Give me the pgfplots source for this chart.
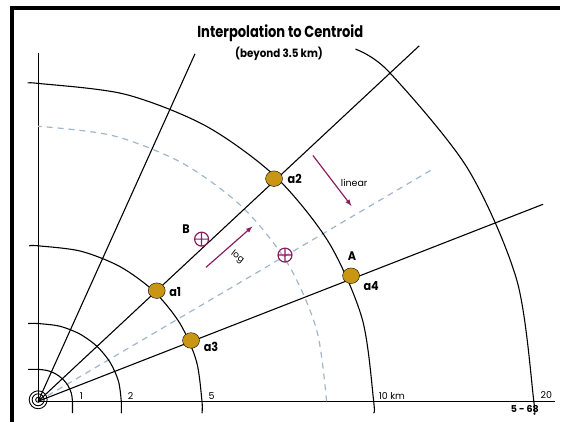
\documentclass[border=0pt]{standalone}
\usepackage{pgfplots}
\pgfplotsset{compat=1.18}
\usepackage{fontspec}
\setmainfont{Poppins}
\newfontfamily\titlefont{Poppins}[FakeStretch=0.82]
\newfontfamily\subfont{Poppins}[FakeStretch=0.9]
\newfontfamily\lblfont{Poppins}
\definecolor{gold}{RGB}{200,150,18}
\definecolor{mag}{RGB}{140,30,95}
\definecolor{dashc}{RGB}{160,182,202}
\begin{document}
\begin{tikzpicture}
\begin{axis}[scale only axis, width=562bp, height=424bp,
  xmin=-38.3, xmax=523.7, ymin=-21.3, ymax=402.7,
  hide axis, clip=false]
% bounding corners
\addplot[draw=none, mark=none] coordinates {(-38.3,-21.3) (523.7,402.7)};
% frame
\addplot[black, line width=4bp, mark=none] coordinates {(-26.3,-21.3) (-26.3,394.7) (523.7,394.7)};
% gold stations (under the lines)
\addplot[only marks, mark=*, mark size=8.5bp, mark options={draw=none, fill=gold, yscale=0.92}] coordinates {
(119,111) (236.7,223.4) (153.4,61) (314,126)};
% axes
\addplot[black, line width=1.1bp, mark=none] coordinates {(0,350) (0,0) (518.4,0)};
% dashed arc
\addplot[dashc, line width=1.2bp, dash pattern=on 6bp off 5bp, smooth, mark=none] coordinates {
(289.4,0) (279.53,71.43) (250.62,138) (204.63,195.16) (144.7,239.02) (74.9,266.59) (0,276)};
% dashed ray
\addplot[dashc, line width=1.2bp, dash pattern=on 6bp off 5bp, mark=none] coordinates {(0,0) (396.7,233.4)};
% arcs
\addplot[black, line width=1.1bp, smooth, mark=none] coordinates {
(34.4,-12) (34.4,0) (33.23,8.28) (29.79,16) (24.32,22.63) (17.2,27.71) (8.90,30.91) (0,32) (-10,32)};
\addplot[black, line width=1.1bp, smooth, mark=none] coordinates {
(83.4,-12) (83.4,0) (80.56,20.19) (72.23,39) (58.97,55.15) (41.7,67.55) (21.58,75.34) (0,78) (-10,78)};
\addplot[black, line width=1.1bp, smooth, mark=none] coordinates {
(164.4,-12) (164.4,0) (158.80,40.37) (142.37,78) (116.25,110.31) (82.2,135.1) (42.55,150.68) (0,156) (-9,156)};
\addplot[black, line width=1.1bp, smooth, mark=none] coordinates {
(336.7,-12) (336.7,0) (325.22,82.56) (291.58,159.5) (238.08,225.56) (168.35,276.25) (87.14,308.12) (0,319) (-10,319)};
\addplot[black, line width=1.1bp, smooth, mark=none] coordinates {
(497.4,-12) (497.4,0) (480.45,121.12) (430.76,234) (351.72,330.92) (318.4,353.4)};
% rays
\addplot[black, line width=1.1bp, mark=none] coordinates {(0,0) (157.4,348.7)};
\addplot[black, line width=1.1bp, mark=none] coordinates {(0,0) (382.4,356.7)};
\addplot[black, line width=1.1bp, mark=none] coordinates {(0,0) (506.7,197.7)};
% origin rings
\addplot[black, line width=0.9bp, mark=o, mark size=9bp, only marks] coordinates {(0,1.5)};
\addplot[black, line width=0.9bp, mark=o, mark size=6bp, only marks] coordinates {(0,1.5)};
\addplot[black, line width=0.9bp, mark=o, mark size=2.5bp, only marks] coordinates {(0,1.5)};
% centroid markers
\addplot[only marks, mag, mark=oplus, mark size=7bp, line width=1.2bp] coordinates {(164,162.7) (247.7,146.7)};
% arrows
\addplot[mag, line width=1.2bp, -{latex}, mark=none] coordinates {(168.4,134.4) (215,175.4)};
\addplot[mag, line width=1.2bp, -{latex}, mark=none] coordinates {(275.7,246.7) (314.4,196)};
% texts
\node[font=\titlefont\bfseries\fontsize{16bp}{17bp}\selectfont] at (axis cs:243,369.2) {Interpolation to Centroid};
\node[font=\subfont\bfseries\fontsize{11.5bp}{12bp}\selectfont] at (axis cs:241.7,348.7) {(beyond 3.5 km)};
\node[font=\lblfont\fontsize{9.5bp}{10bp}\selectfont] at (axis cs:43.4,5.5) {1};
\node[font=\lblfont\fontsize{9.5bp}{10bp}\selectfont] at (axis cs:92.7,5.5) {2};
\node[font=\lblfont\fontsize{9.5bp}{10bp}\selectfont] at (axis cs:174,5.5) {5};
\node[font=\lblfont\fontsize{9.5bp}{10bp}\selectfont, anchor=west, inner sep=0pt] at (axis cs:341.7,5.5) {10 km};
\node[font=\lblfont\fontsize{9.5bp}{10bp}\selectfont] at (axis cs:510,5.9) {20};
\node[font=\lblfont\bfseries\fontsize{9.5bp}{10bp}\selectfont] at (axis cs:488.4,-8) {5 - 68};
\node[font=\lblfont\fontsize{9.5bp}{10bp}\selectfont] at (axis cs:317.2,219.4) {linear};
\node[font=\lblfont\fontsize{9bp}{10bp}\selectfont, rotate=-38, inner sep=1pt] at (axis cs:200,145) {log};
\node[font=\subfont\bfseries\fontsize{12.5bp}{13bp}\selectfont] at (axis cs:148.4,172.7) {B};
\node[font=\subfont\bfseries\fontsize{12.5bp}{13bp}\selectfont] at (axis cs:315,145.4) {A};
\node[font=\subfont\bfseries\fontsize{12.5bp}{13bp}\selectfont] at (axis cs:137.5,109.4) {a1};
\node[font=\subfont\bfseries\fontsize{12.5bp}{13bp}\selectfont] at (axis cs:257.5,223.4) {a2};
\node[font=\subfont\bfseries\fontsize{12.5bp}{13bp}\selectfont] at (axis cs:173.5,54.4) {a3};
\node[font=\subfont\bfseries\fontsize{12.5bp}{13bp}\selectfont] at (axis cs:334.2,116) {a4};
\end{axis}
\end{tikzpicture}
\end{document}
